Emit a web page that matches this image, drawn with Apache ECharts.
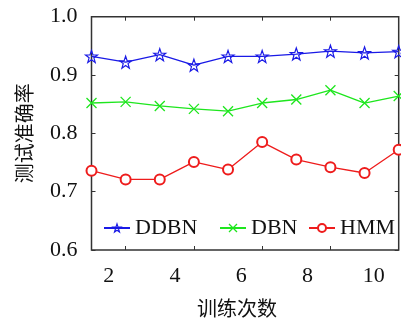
<!DOCTYPE html>
<html><head><meta charset="utf-8">
<script src="https://cdn.jsdelivr.net/npm/echarts@6/dist/echarts.min.js"></script>
<style>html,body{margin:0;padding:0;background:#fff}#c{width:401px;height:323px}</style>
</head><body><div id="c"></div>
<script>
const xValues = [1,2,3,4,5,6,7,8,9,10];
const ddbn = [0.932,0.922,0.935,0.917,0.932,0.932,0.936,0.941,0.938,0.940];
const dbn  = [0.852,0.854,0.847,0.842,0.838,0.852,0.858,0.874,0.852,0.864];
const hmm  = [0.736,0.721,0.721,0.751,0.738,0.785,0.755,0.742,0.732,0.772];
const xTickLabels = [2,4,6,8,10];
const xTicks = [2,4,6,8];
const seriesNames = ['DDBN','DBN','HMM'];

const serif = 'Liberation Serif';
const cjk = 'Noto Sans CJK SC';
const starPath = 'path://M0,-10 L2.35,-3.24 L9.51,-3.09 L3.8,1.24 L5.88,8.09 L0,4 L-5.88,8.09 L-3.8,1.24 L-9.51,-3.09 L-2.35,-3.24 Z';
const crossPath = 'path://M0,0 L10,10 M10,0 L0,10';
const cBlue = '#1a1ae6', cGreen = '#1ee61e', cRed = '#ee1c1c';

function pts(arr){ return arr.map((v,i)=>[xValues[i], v]); }
const tickStyle = {show:true, inside:true, length:4, lineStyle:{color:'#333', width:1}};
const legendText = {fontFamily:serif, fontSize:22, color:'#111'};
const clear = 'rgba(255,255,255,0)';

const chart = echarts.init(document.getElementById('c'));
chart.setOption({
  animation:false,
  grid:{left:91.5, top:16.7, right:2.3, bottom:71.3, show:true, borderColor:'#333', borderWidth:1.5},
  legend:[
    {data:[{name:seriesNames[0], itemStyle:{color:clear, borderColor:cBlue, borderWidth:1.2}}],
     left:98, top:212, itemWidth:26, itemHeight:10, textStyle:legendText},
    {data:[{name:seriesNames[1], itemStyle:{color:clear, borderColor:cGreen, borderWidth:1.3}}],
     left:214, top:212, itemWidth:26, itemHeight:10, textStyle:legendText},
    {data:[{name:seriesNames[2], itemStyle:{color:cRed, borderColor:cRed, borderWidth:1.3}}],
     left:303, top:212, itemWidth:26, itemHeight:10, textStyle:legendText}
  ],
  xAxis:[
    {type:'value', min:1, max:10, position:'bottom', axisLine:{show:false},
     axisTick:Object.assign({customValues:xTicks}, tickStyle), axisLabel:{show:false}, splitLine:{show:false}},
    {type:'value', min:1, max:10, position:'top', axisLine:{show:false},
     axisTick:Object.assign({customValues:xTicks}, tickStyle), axisLabel:{show:false}, splitLine:{show:false}},
    {type:'value', min:1.477, max:10.75, position:'bottom', axisLine:{show:false}, axisTick:{show:false},
     splitLine:{show:false},
     axisLabel:{customValues:xTickLabels, margin:15, fontFamily:serif, fontSize:22, color:'#111'},
     name:'训练次数', nameLocation:'middle', nameGap:48,
     nameTextStyle:{fontFamily:cjk, fontSize:20, color:'#111', padding:[0,16,0,0]}}
  ],
  yAxis:[
    {type:'value', min:0.6, max:1.0, interval:0.1, position:'left', axisLine:{show:false},
     axisTick:tickStyle, splitLine:{show:false},
     axisLabel:{margin:14, fontFamily:serif, fontSize:22, color:'#111', formatter:v=>v.toFixed(1)},
     name:'测试准确率', nameLocation:'middle', nameRotate:90, nameGap:57,
     nameTextStyle:{fontFamily:cjk, fontSize:20, color:'#111'}},
    {type:'value', min:0.6, max:1.0, interval:0.1, position:'right', axisLine:{show:false},
     axisTick:tickStyle, splitLine:{show:false}, axisLabel:{show:false}}
  ],
  series:[
    {name:seriesNames[0], type:'line', xAxisIndex:0, yAxisIndex:0, data:pts(ddbn),
     symbol:starPath, symbolSize:12, showAllSymbol:true,
     lineStyle:{color:cBlue, width:1.3}, itemStyle:{color:clear, borderColor:cBlue, borderWidth:1.2}},
    {name:seriesNames[1], type:'line', xAxisIndex:0, yAxisIndex:0, data:pts(dbn),
     symbol:crossPath, symbolSize:10, showAllSymbol:true,
     lineStyle:{color:cGreen, width:1.3}, itemStyle:{color:clear, borderColor:cGreen, borderWidth:1.3}},
    {name:seriesNames[2], type:'line', xAxisIndex:0, yAxisIndex:0, data:pts(hmm),
     symbol:'emptyCircle', symbolSize:10, showAllSymbol:true,
     lineStyle:{color:cRed, width:1.3}, itemStyle:{color:cRed, borderColor:cRed, borderWidth:1.3}}
  ]
});
</script></body></html>
